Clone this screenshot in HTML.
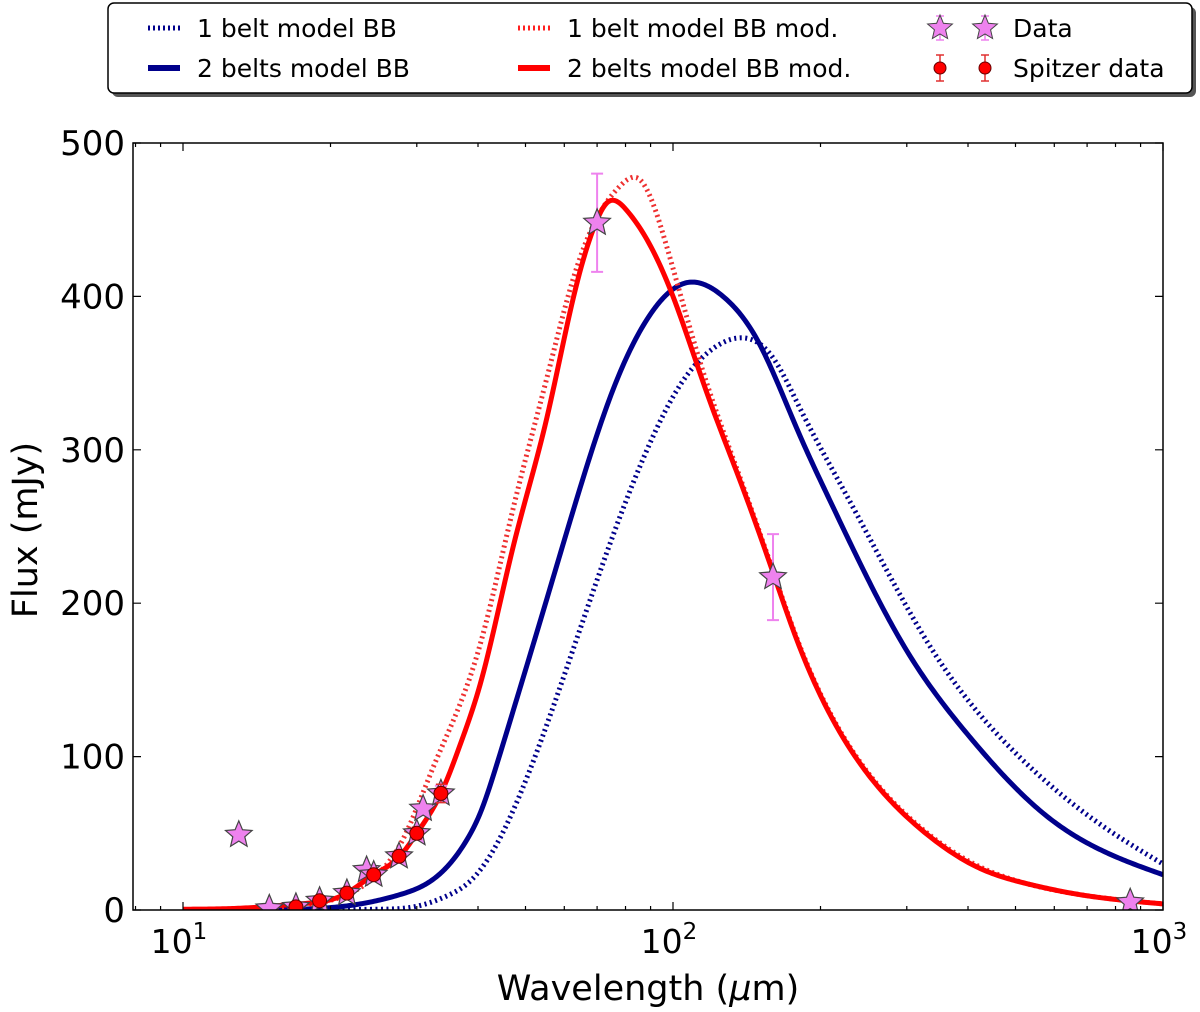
<!DOCTYPE html>
<html><head><meta charset="utf-8"><style>
html,body{margin:0;padding:0;background:#fff;}
svg{display:block;font-family:"DejaVu Sans","Liberation Sans",sans-serif;}
</style></head><body>
<svg id="chart" width="1200" height="1012" viewBox="0 0 1200 1012" xmlns="http://www.w3.org/2000/svg">
<g id="legend">
 <rect x="112" y="7" width="1084" height="90" rx="6" fill="#555"/>
 <rect x="108" y="3" width="1084" height="90" rx="6" fill="#fff" stroke="#000" stroke-width="1.5"/>
 <g>
  <line x1="148" y1="28" x2="180" y2="28" stroke="#00008b" stroke-width="5" stroke-dasharray="2,3"/>
  <text x="197" y="37" font-size="25">1 belt model BB</text></g>
 <g>
  <line x1="148" y1="68" x2="180" y2="68" stroke="#00008b" stroke-width="6"/>
  <text x="197" y="77" font-size="25">2 belts model BB</text></g>
 <g>
  <line x1="518" y1="28" x2="550" y2="28" stroke="#ff2020" stroke-width="5" stroke-dasharray="2,3"/>
  <text x="567" y="37" font-size="25">1 belt model BB mod.</text></g>
 <g>
  <line x1="518" y1="68" x2="550" y2="68" stroke="#ff0000" stroke-width="6"/>
  <text x="567" y="77" font-size="25">2 belts model BB mod.</text></g>
 <g id="legData">
  <text x="1013" y="37" font-size="25">Data</text></g>
 <g id="legSpitzer">
  <text x="1013" y="77" font-size="25">Spitzer data</text></g>
</g>
<g id="plot"></g>
<text x="648" y="1000" font-size="35" text-anchor="middle">Wavelength (<tspan font-style="italic">μ</tspan>m)</text>
<text transform="translate(37,530) rotate(-90)" font-size="35" text-anchor="middle">Flux (mJy)</text>
</svg>
<script>
const redSolidW=[10,13.7,17.3,21.6,24.5,27.7,30,33.6,37,40.4,47.2,55.3,62.7,70,73.3,80.5,88.5,100,117.3,137,160,179,202,244,309,350,424,530,677,1000];
const redSolidF=[0.5,1.5,4,11,23,35,50,76,110,147,237,321,400,450,461,456,437,400,337,280,220,176,137,93,57,43,27,17,10,4];
const redDotW=[10,17.3,24.5,28,32.4,40.4,47.2,55.3,62.5,72,78,85.7,97.2,113.6,137,160,179,202,244,309,350,424,530,677,1000];
const redDotF=[0.3,3,21,45,93,173,262,347,411,458,472,476,432,357,282,221,177,138,94,58,44,28,17,10,4];
const blueSolidW=[10,17.3,22,27.7,32.4,35,38,40.4,43.7,47.2,55.3,64.6,75.4,88.5,106.8,126.5,148.4,180,209,300,398,580,1000];
const blueSolidF=[0,0.5,3,10,20,30,46,63,95,130,203,275,339,385,409,400,372,312,267,169,115,61,23];
const blueDotW=[10,20,25,29.5,35,38,40.4,43.7,47.2,55.3,64.6,75.4,88.5,103.3,120.7,137,160,181,229,339,494,792,1000];
const blueDotF=[0,0,0.5,2,10,17,26,43,65,121,183,244,300,342,366,373,360,328,267,169,104,50,30];
const starW=[13,15,17,19,21.6,23.7,24.5,27.6,30,30.9,33.6,70,160,857];
const starF=[49,1,2,6,11,26,23,35,50,66,76,448,217,5];
const starErr=[0,0,0,0,0,0,0,0,0,0,5,32,28,0];
const spitzerW=[17,19,21.6,24.5,27.6,30,33.6];
const spitzerF=[2,6,11,23,35,50,76];
const spitzerErr=[1,1,2,2,3,4,6];
const yTicks=[0,100,200,300,400,500];
const xTickExps=[1,2,3];

const NS="http://www.w3.org/2000/svg";
const L=133,R=1163,T=143,B=910;
const xS=w=>183+490*Math.log10(w/10);
const yS=f=>B-(B-T)*f/500;
const plot=document.getElementById('plot');
function mk(tag,attrs,parent){const e=document.createElementNS(NS,tag);for(const k in attrs)e.setAttribute(k,attrs[k]);(parent||plot).appendChild(e);return e;}
function smooth(W,F){const x=W.map(xS),y=F.map(yS),n=x.length;
 const h=[],a=new Array(n).fill(0),b=new Array(n).fill(0),c=new Array(n).fill(0),d=new Array(n).fill(0);
 for(let i=0;i<n-1;i++)h.push(x[i+1]-x[i]);
 b[0]=1;b[n-1]=1;
 for(let i=1;i<n-1;i++){a[i]=h[i-1];b[i]=2*(h[i-1]+h[i]);c[i]=h[i];d[i]=6*((y[i+1]-y[i])/h[i]-(y[i]-y[i-1])/h[i-1]);}
 for(let i=1;i<n;i++){const m=a[i]/b[i-1];b[i]-=m*c[i-1];d[i]-=m*d[i-1];}
 const M=new Array(n);M[n-1]=d[n-1]/b[n-1];for(let i=n-2;i>=0;i--)M[i]=(d[i]-c[i]*M[i+1])/b[i];
 let p=`M${x[0].toFixed(2)},${y[0].toFixed(2)}`;
 for(let i=0;i<n-1;i++){const steps=Math.max(2,Math.ceil(h[i]/2));
  for(let s=1;s<=steps;s++){const t=s/steps,xx=x[i]+t*h[i],A=1-t,Bt=t;
   let yy=A*y[i]+Bt*y[i+1]+((A*A*A-A)*M[i]+(Bt*Bt*Bt-Bt)*M[i+1])*h[i]*h[i]/6;
   yy=Math.min(yy,B+2);p+=`L${xx.toFixed(2)},${yy.toFixed(2)}`;}}
 return p;}
function starPts(cx,cy,r){let s=[];for(let i=0;i<10;i++){const a=-Math.PI/2+i*Math.PI/5,rr=i%2?r*0.45:r;s.push((cx+rr*Math.cos(a)).toFixed(1)+','+(cy+rr*Math.sin(a)).toFixed(1));}return s.join(' ');}

const clip=mk('clipPath',{id:'pc'});mk('rect',{x:L,y:T,width:R-L,height:B-T},clip);
const g=mk('g',{'clip-path':'url(#pc)'});
let e;
e=mk('path',{d:smooth(blueDotW,blueDotF),fill:'none',stroke:'#00008b','stroke-width':5,'stroke-dasharray':'2,3.5'},g);


e=mk('path',{d:smooth(blueSolidW,blueSolidF),fill:'none',stroke:'#00008b','stroke-width':5,'stroke-linejoin':'round'},g);


e=mk('path',{d:smooth(redDotW,redDotF),fill:'none',stroke:'#ee3030','stroke-width':5,'stroke-dasharray':'2,3.5'},g);


e=mk('path',{d:smooth(redSolidW,redSolidF),fill:'none',stroke:'#ff0000','stroke-width':5,'stroke-linejoin':'round'},g);


starW.forEach((w,i)=>{const x=xS(w),y=yS(starF[i]);
 if(starErr[i]){const y1=yS(starF[i]+starErr[i]),y2=yS(starF[i]-starErr[i]);
  e=mk('path',{d:`M${x},${y1}V${y2}M${x-6},${y1}H${x+6}M${x-6},${y2}H${x+6}`,stroke:'#ee82ee','stroke-width':2,fill:'none'},g);
  
  }
 e=mk('polygon',{points:starPts(x,y,14),fill:'#ee82ee',stroke:'#444','stroke-width':1.2},g);
 
 });
spitzerW.forEach((w,i)=>{const x=xS(w),y=yS(spitzerF[i]),y1=yS(spitzerF[i]+spitzerErr[i]),y2=yS(spitzerF[i]-spitzerErr[i]);
 e=mk('path',{d:`M${x},${y1}V${y2}M${x-5},${y1}H${x+5}M${x-5},${y2}H${x+5}`,stroke:'#e03030','stroke-width':1.5,fill:'none'},g);
 
 
 e=mk('circle',{cx:x,cy:y,r:7,fill:'#ff0000',stroke:'#600','stroke-width':1},g);
 
 });
e=mk('rect',{x:L,y:T,width:R-L,height:B-T,fill:'none',stroke:'#000','stroke-width':1.5});


yTicks.forEach(v=>{const y=yS(v);
 mk('path',{d:`M${L},${y}h8M${R},${y}h-8`,stroke:'#000','stroke-width':1.2});
 e=mk('text',{x:L-8,y:y+12,'font-size':34,'text-anchor':'end'});e.textContent=v;
 
 });
for(let d=0;d<3;d++)for(let k=1;k<10;k++){const w=Math.pow(10,d)*k;if(w<7.9)continue;const x=xS(w);
 const len=k===1?8:4;mk('path',{d:`M${x},${B}v-${len}M${x},${T}v${len}`,stroke:'#000','stroke-width':1.2});}
mk('path',{d:`M${xS(1000)},${B}v-8M${xS(1000)},${T}v8`,stroke:'#000','stroke-width':1.2});
xTickExps.forEach(p=>{const x=xS(Math.pow(10,p));
 e=mk('text',{x:x-4,y:953,'font-size':33,'text-anchor':'middle'});
 e.innerHTML='10<tspan dy="-14" font-size="23">'+p+'</tspan>';
 
 });
const lg=document.getElementById('legData'),ls=document.getElementById('legSpitzer');
[940,985].forEach(x=>{
 mk('path',{d:`M${x},16V40M${x-4},16H${x+4}M${x-4},40H${x+4}`,stroke:'#ee82ee','stroke-width':1.5,fill:'none'},lg);
 mk('polygon',{points:starPts(x,28,13),fill:'#ee82ee',stroke:'#444','stroke-width':1},lg);
 mk('path',{d:`M${x},55V81M${x-4},55H${x+4}M${x-4},81H${x+4}`,stroke:'#e03030','stroke-width':1.5,fill:'none'},ls);
 mk('circle',{cx:x,cy:68,r:6,fill:'#ff0000',stroke:'#600','stroke-width':1},ls);});
</script>
</body></html>
